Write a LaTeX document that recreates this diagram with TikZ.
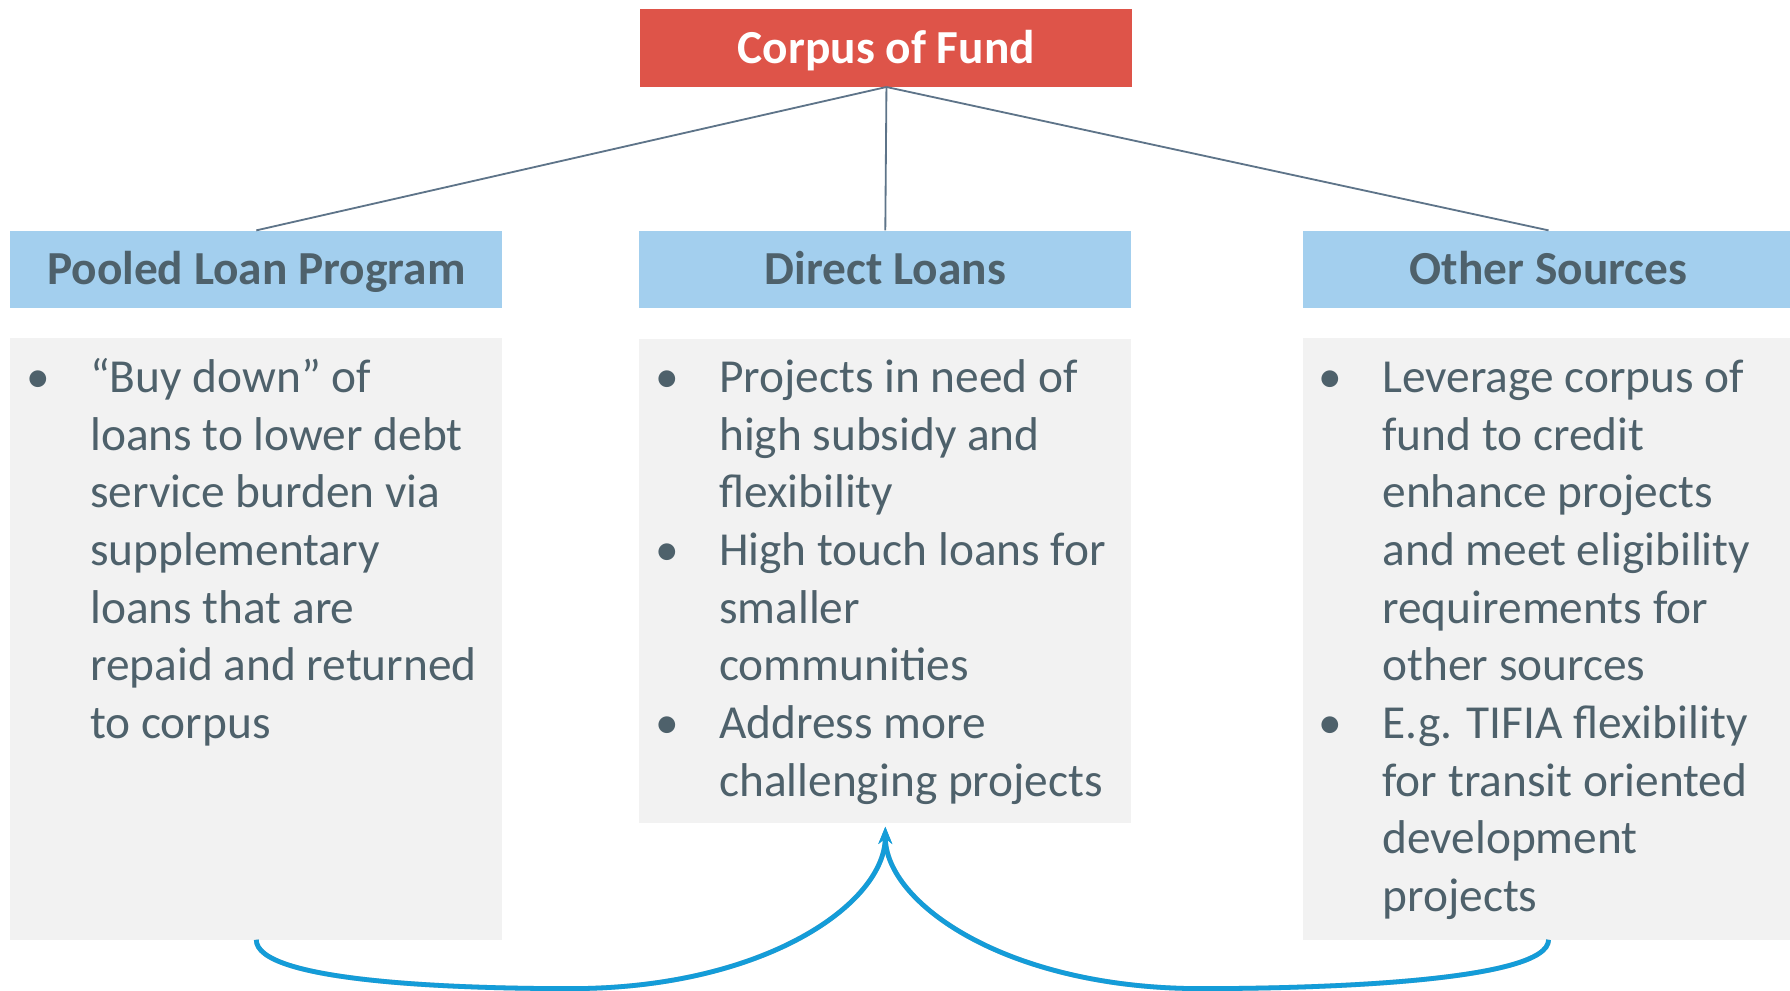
\documentclass[tikz,border=0pt]{standalone}
\usepackage{fontspec}
\setmainfont{Carlito}
\usetikzlibrary{arrows.meta,calc}
\definecolor{redbox}{HTML}{DE5449}
\definecolor{hdrblue}{HTML}{A3CFEE}
\definecolor{txt}{HTML}{4E616B}
\definecolor{bodygray}{HTML}{F2F2F2}
\definecolor{connc}{HTML}{5E7489}
\definecolor{curvec}{HTML}{149CD8}
\tikzset{
  topbox/.style={fill=redbox, minimum width=431pt, minimum height=68pt, inner sep=0pt, text height=27pt, text depth=0pt, text=white, font=\fontsize{41.5}{50.5}\selectfont\bfseries},
  hdr/.style={fill=hdrblue, minimum width=431pt, minimum height=68pt, inner sep=0pt, text height=27pt, text depth=0pt, text=txt, font=\fontsize{41.5}{50.5}\selectfont\bfseries},
  bodybox/.style={fill=bodygray, minimum width=431pt, inner sep=0pt},
  bodytext/.style={anchor=base west, inner sep=0pt, text=txt, font=\fontsize{41.5}{50.5}\selectfont},
  conn/.style={draw=connc, line width=1.6pt},
  loop/.style={draw=curvec, line width=4.2pt, -{Stealth[length=15pt,width=12pt]}, shorten >=3pt},
  loopshadow/.style={draw=black!22, line width=4.2pt, shorten >=12pt}
}
\begin{document}
\begin{tikzpicture}[x=1pt,y=-1pt]
\useasboundingbox (0,0) rectangle (1568,868);
% top
\node[topbox] (top) at (776.5,42) {Corpus of Fund};
% headers
\node[hdr] (lhead) at (224.5,236) {Pooled Loan Program};
\node[hdr] (mhead) at (775.5,236) {Direct Loans};
\node[hdr] (rhead) at (1356.5,236) {Other Sources};
% bodies
\node[bodybox, minimum height=527pt] (lbody) at (224.5,559.5) {};
\node[bodybox, minimum height=424pt] (mbody) at (775.5,509) {};
\node[bodybox, minimum height=527pt] (rbody) at (1356.5,559.5) {};
% texts
\node[bodytext] (ltext) at ($(lbody.north west)+(14,48)$) {%
\begin{tabular}[t]{@{}p{56pt}@{}l@{}}
• & “Buy down” of\\
  & loans to lower debt\\
  & service burden via\\
  & supplementary\\
  & loans that are\\
  & repaid and returned\\
  & to corpus
\end{tabular}};
\node[bodytext] (mtext) at ($(mbody.north west)+(14,47)$) {%
\begin{tabular}[t]{@{}p{56pt}@{}l@{}}
• & Projects in need of\\
  & high subsidy and\\
  & flexibility\\
• & High touch loans for\\
  & smaller\\
  & communities\\
• & Address more\\
  & challenging projects
\end{tabular}};
\node[bodytext] (rtext) at ($(rbody.north west)+(14,48)$) {%
\begin{tabular}[t]{@{}p{56pt}@{}l@{}}
• & Leverage corpus of\\
  & fund to credit\\
  & enhance projects\\
  & and meet eligibility\\
  & requirements for\\
  & other sources\\
• & E.g. TIFIA flexibility\\
  & for transit oriented\\
  & development\\
  & projects
\end{tabular}};
% connectors
\draw[conn] (top.south) -- (lhead.north);
\draw[conn] (top.south) -- (mhead.north);
\draw[conn] (top.south) -- (rhead.north);
% loop arrows
\coordinate (lowL) at (500,866);
\coordinate (lowR) at (1052,866);
\begin{scope}[shift={(1.5,2.5)}]
\draw[loopshadow] (lbody.south) .. controls +(0,36) and +(-110,0) .. (lowL)
  .. controls +(170,0) and +(0,70) .. (mbody.south);
\draw[loopshadow] (rbody.south) .. controls +(0,36) and +(110,0) .. (lowR)
  .. controls +(-170,0) and +(0,70) .. (mbody.south);
\end{scope}
\draw[loop] (lbody.south) .. controls +(0,36) and +(-110,0) .. (lowL)
  .. controls +(170,0) and +(0,70) .. (mbody.south);
\draw[loop] (rbody.south) .. controls +(0,36) and +(110,0) .. (lowR)
  .. controls +(-170,0) and +(0,70) .. (mbody.south);
\end{tikzpicture}
\end{document}
